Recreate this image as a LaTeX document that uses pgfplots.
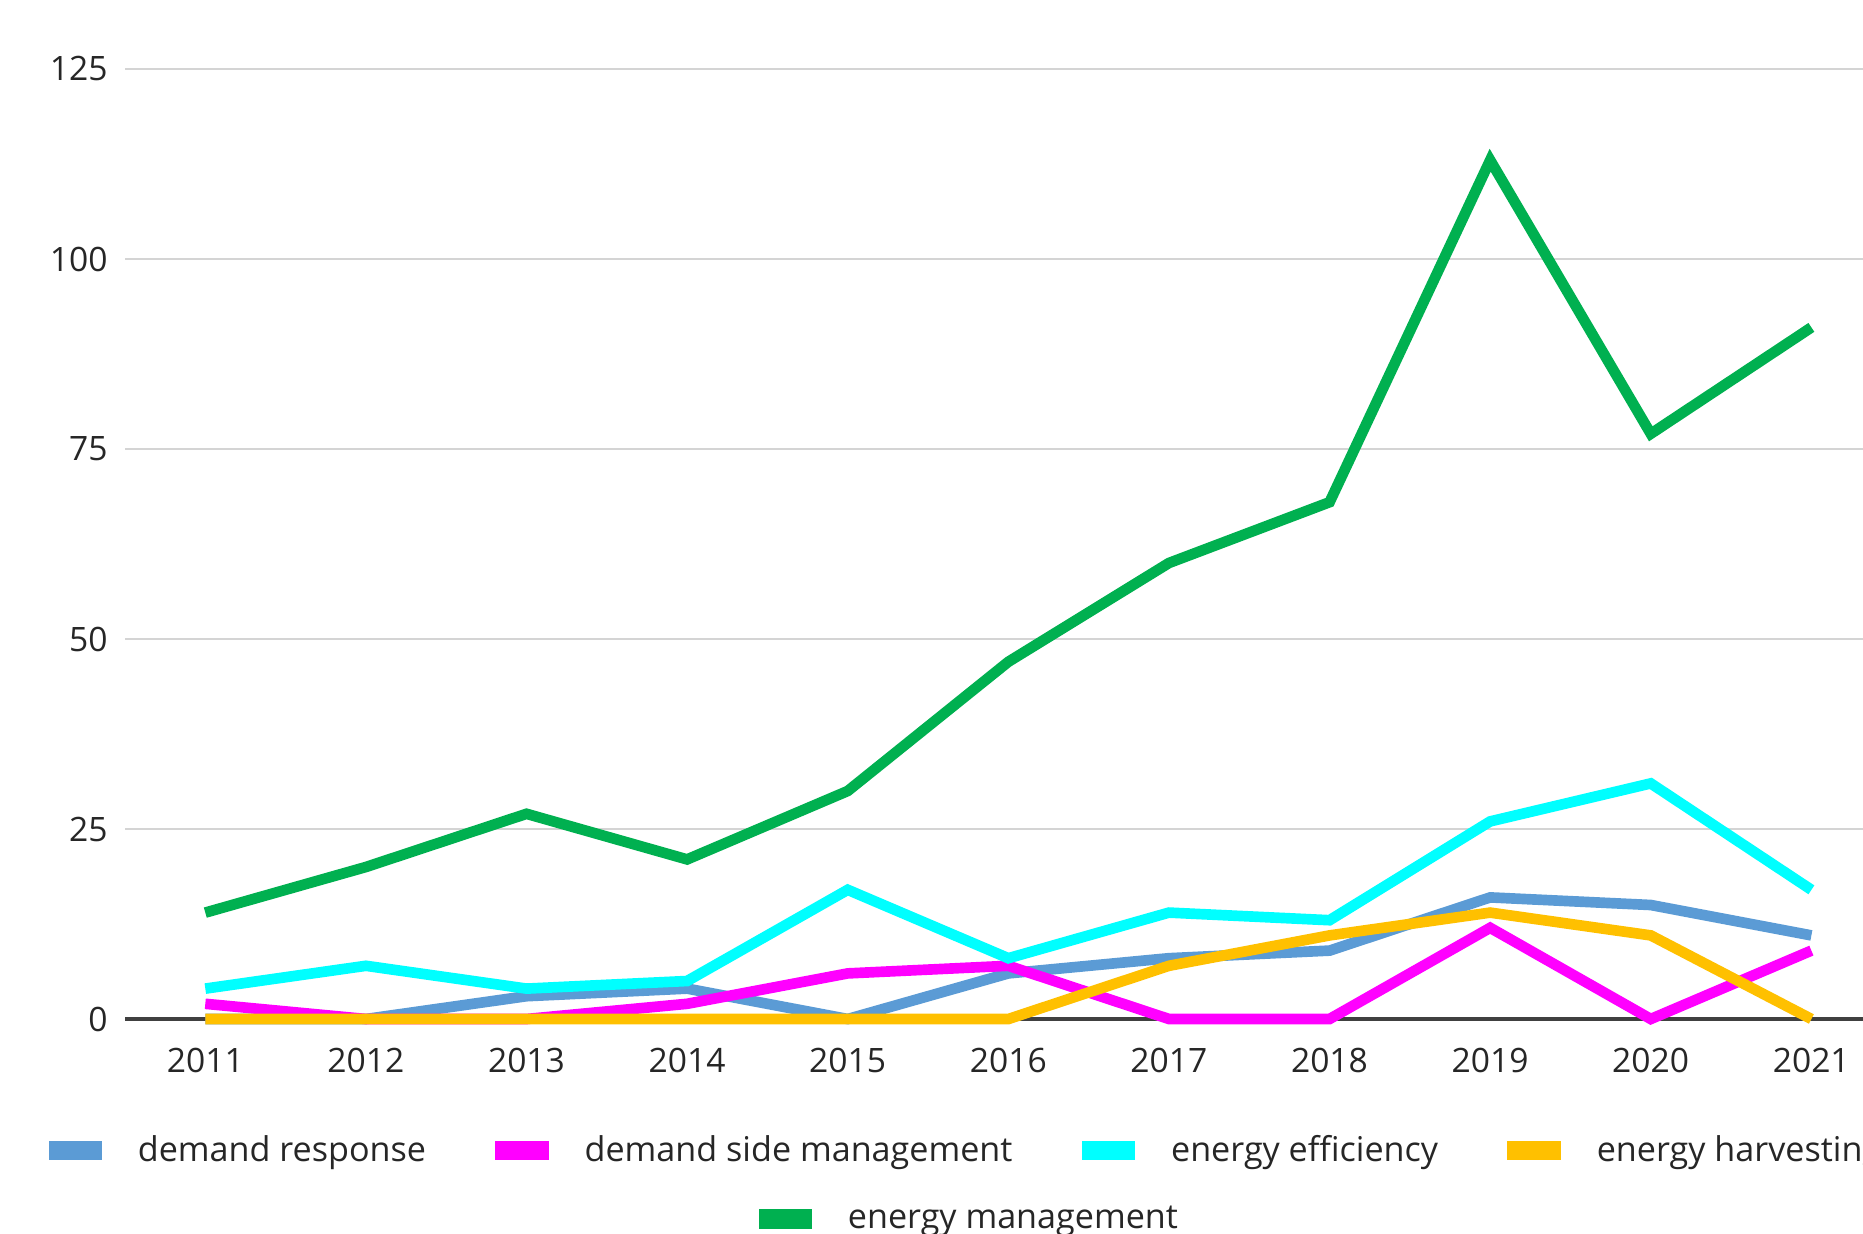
\documentclass[border=0pt]{standalone}
\usepackage{pgfplots}
\pgfplotsset{compat=1.18}
\usepackage{fontspec}
\setmainfont{Open Sans}
\definecolor{dr}{HTML}{5B9BD5}
\definecolor{dsm}{HTML}{FF00FF}
\definecolor{ee}{HTML}{00FFFF}
\definecolor{eh}{HTML}{FFC000}
\definecolor{em}{HTML}{00B050}
\definecolor{gridc}{HTML}{D4D4D4}
\definecolor{axc}{HTML}{404040}
\definecolor{txt}{HTML}{262626}
\pgfplotsset{
  legstyle/.style={
    legend style={draw=none, fill=none, inner sep=0pt, anchor=west,
      font=\fontsize{12.8}{15}\selectfont, text=txt,
      /tikz/every odd column/.append style={column sep=11.5pt},
      /tikz/every even column/.append style={column sep=24pt}},
    legend image code/.code={\fill[##1, draw=none] (0pt,-3.6pt) rectangle (20pt,3.6pt);},
  }
}
\begin{document}
\begin{tikzpicture}
\useasboundingbox (0,0) rectangle (698.625pt,462.375pt);
\begin{scope}
\clip (0,0) rectangle (698.625pt,462.375pt);
\begin{axis}[
  at={(46.875pt,80.25pt)}, anchor=south west,
  scale only axis, width=662.5pt, height=356.25pt,
  xmin=2010.5, xmax=2021.5, ymin=0, ymax=125,
  clip=false,
  xtick={2011,2012,...,2021},
  ytick={25,50,...,125},
  extra y ticks={0},
  extra y tick style={grid style={color=axc, line width=1.3pt}},
  ymajorgrids,
  grid style={color=gridc, line width=1.1pt},
  axis line style={draw=none},
  major tick length=0pt,
  tick style={draw=none},
  /pgf/number format/1000 sep={},
  /pgf/number format/assume math mode=true,
  ticklabel style={font=\fontsize{12.6}{15}\selectfont, text=txt},
  yticklabel style={xshift=-3pt},
  xticklabel style={yshift=-7.3pt},
  legstyle,
  legend style={at={(-0.0436,-0.138)}},
  legend columns=4,
  every axis plot/.append style={line width=4pt},
]
\addplot[color=dr] coordinates {(2011,0)(2012,0)(2013,3)(2014,4)(2015,0)(2016,6)(2017,8)(2018,9)(2019,16)(2020,15)(2021,11)};
\addlegendentry{demand response}
\addplot[color=dsm] coordinates {(2011,2)(2012,0)(2013,0)(2014,2)(2015,6)(2016,7)(2017,0)(2018,0)(2019,12)(2020,0)(2021,9)};
\addlegendentry{demand side management}
\addplot[color=ee] coordinates {(2011,4)(2012,7)(2013,4)(2014,5)(2015,17)(2016,8)(2017,14)(2018,13)(2019,26)(2020,31)(2021,17)};
\addlegendentry{energy efficiency}
\addplot[color=eh] coordinates {(2011,0)(2012,0)(2013,0)(2014,0)(2015,0)(2016,0)(2017,7)(2018,11)(2019,14)(2020,11)(2021,0)};
\addlegendentry{energy harvesting}
\addplot[color=em] coordinates {(2011,14)(2012,20)(2013,27)(2014,21)(2015,30)(2016,47)(2017,60)(2018,68)(2019,113)(2020,77)(2021,91)};
\end{axis}
\begin{axis}[
  at={(46.875pt,80.25pt)}, anchor=south west,
  scale only axis, width=662.5pt, height=356.25pt,
  xmin=2010.5, xmax=2021.5, ymin=0, ymax=125,
  hide axis,
  legstyle,
  legend style={at={(0.3583,-0.2105)}},
]
\addlegendimage{color=em, line width=4pt}
\addlegendentry{energy management}
\end{axis}
\end{scope}
\end{tikzpicture}
\end{document}
